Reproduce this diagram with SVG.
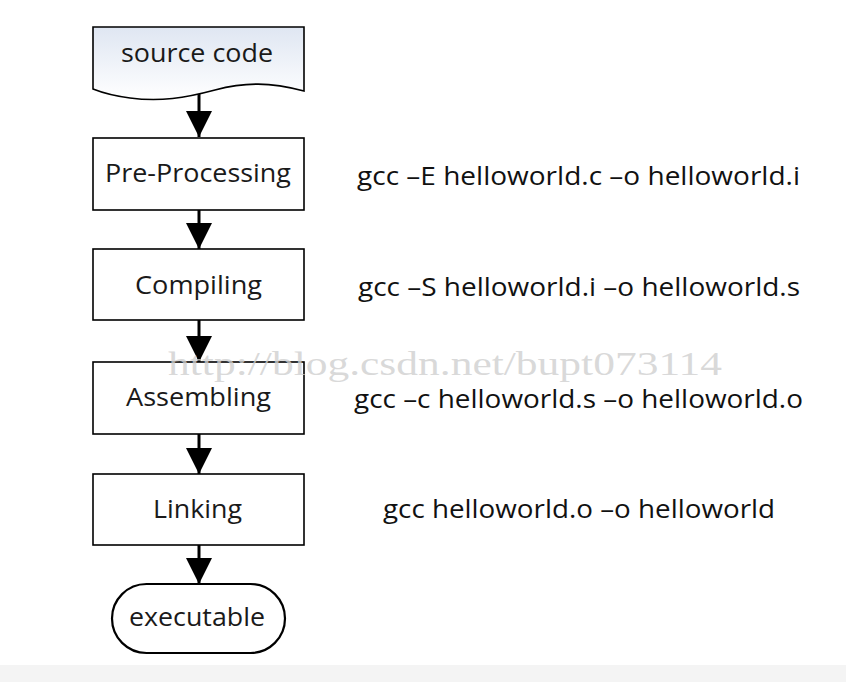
<svg xmlns="http://www.w3.org/2000/svg" width="846" height="682" viewBox="0 0 846 682">
<defs>
<linearGradient id="doc" x1="0" y1="0" x2="0" y2="1">
<stop offset="0" stop-color="#dfe6f2"/>
<stop offset="1" stop-color="#ffffff"/>
</linearGradient>
<marker id="arr" viewBox="0 0 26 28" refX="26" refY="13" markerWidth="26" markerHeight="28" markerUnits="userSpaceOnUse" orient="auto">
<path d="M0,0 L26,13 L0,26 Z" fill="#000"/>
</marker>
<style>
.box{fill:#fff;stroke:#000;stroke-width:1.6}
.lbl{font-family:"Open Sans","Liberation Sans",sans-serif;font-size:26px;fill:#1a1a1a;text-anchor:middle}
.cmd{font-family:"Open Sans","Liberation Sans",sans-serif;font-size:25px;fill:#111}
.wm{font-family:"Liberation Serif","DejaVu Serif",serif;font-size:33px;fill:#cfcfcf;fill-opacity:0.8}
.conn{stroke:#000;stroke-width:3;fill:none}
</style>
</defs>
<rect x="0" y="0" width="846" height="682" fill="#fff"/>
<rect x="0" y="665" width="846" height="17" fill="#f4f4f4"/>
<g id="connectors">
<line class="conn" x1="199" y1="92" x2="199" y2="137" marker-end="url(#arr)"/>
<line class="conn" x1="199" y1="210" x2="199" y2="249" marker-end="url(#arr)"/>
<line class="conn" x1="199" y1="320" x2="199" y2="362" marker-end="url(#arr)"/>
<line class="conn" x1="199" y1="434" x2="199" y2="474" marker-end="url(#arr)"/>
<line class="conn" x1="199" y1="545" x2="199" y2="584" marker-end="url(#arr)"/>
</g>
<g id="source">
<path class="box" style="fill:url(#doc)" d="M93,27 L304,27 L304,91 C270,82 245,82 215,90 C185,98 160,102 130,98 C115,96 103,93 93,89 Z"/>
<text class="lbl" x="197" y="62" textLength="152" lengthAdjust="spacingAndGlyphs">source code</text>
</g>
<g id="preprocessing">
<rect class="box" x="93" y="138" width="211" height="72"/>
<text class="lbl" x="198" y="182" textLength="186" lengthAdjust="spacingAndGlyphs">Pre-Processing</text>
</g>
<g id="compiling">
<rect class="box" x="93" y="249" width="211" height="71"/>
<text class="lbl" x="198.5" y="294" textLength="127" lengthAdjust="spacingAndGlyphs">Compiling</text>
</g>
<g id="assembling">
<rect class="box" x="93" y="362" width="211" height="72"/>
<text class="lbl" x="198.5" y="406" textLength="145" lengthAdjust="spacingAndGlyphs">Assembling</text>
</g>
<g id="linking">
<rect class="box" x="93" y="474" width="211" height="71"/>
<text class="lbl" x="197.5" y="518" textLength="89" lengthAdjust="spacingAndGlyphs">Linking</text>
</g>
<g id="executable">
<rect class="box" x="112" y="584" width="173" height="69" rx="34.5" ry="34.5" style="stroke-width:2.2"/>
<text class="lbl" x="197" y="626" textLength="136" lengthAdjust="spacingAndGlyphs">executable</text>
</g>
<g id="commands">
<text class="cmd" x="357" y="185" textLength="443" lengthAdjust="spacingAndGlyphs">gcc –E helloworld.c –o helloworld.i</text>
<text class="cmd" x="358" y="296" textLength="442" lengthAdjust="spacingAndGlyphs">gcc –S helloworld.i –o helloworld.s</text>
<text class="cmd" x="354" y="408" textLength="449" lengthAdjust="spacingAndGlyphs">gcc –c helloworld.s –o helloworld.o</text>
<text class="cmd" x="383" y="518" textLength="392" lengthAdjust="spacingAndGlyphs">gcc helloworld.o –o helloworld</text>
</g>
<text class="wm" x="168" y="375" textLength="554" lengthAdjust="spacingAndGlyphs">http://blog.csdn.net/bupt073114</text>
</svg>
